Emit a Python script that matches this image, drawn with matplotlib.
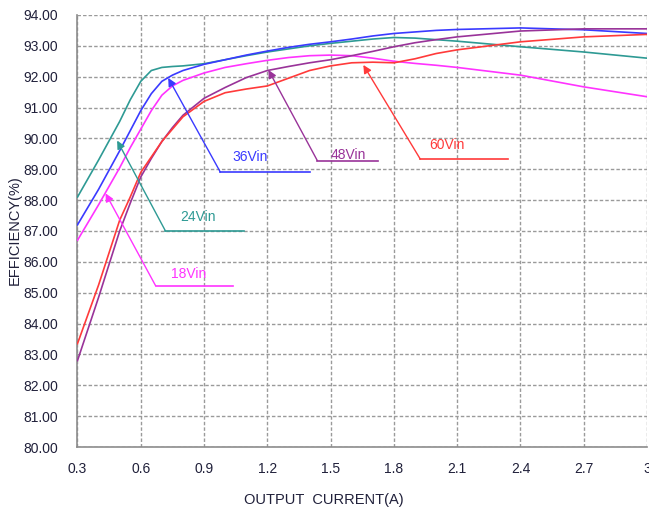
import matplotlib
matplotlib.use("Agg")
import matplotlib.pyplot as plt

plt.rcParams["font.family"] = ["Liberation Sans", "DejaVu Sans"]

# ---- data -----------------------------------------------------------------
current = [0.3, 0.4, 0.5, 0.55, 0.6, 0.65, 0.7, 0.75, 0.8, 0.9, 1.0, 1.1,
           1.2, 1.3, 1.4, 1.5, 1.6, 1.7, 1.8, 1.9, 2.0, 2.1, 2.4, 2.7, 3.0]

eff_18vin = [86.7, 87.85, 89.05, 89.7, 90.3, 90.9, 91.4, 91.7, 91.88, 92.12,
             92.3, 92.42, 92.53, 92.62, 92.68, 92.7, 92.68, 92.6, 92.5, 92.43,
             92.37, 92.3, 92.05, 91.67, 91.35]
eff_24vin = [88.1, 89.3, 90.55, 91.25, 91.85, 92.2, 92.3, 92.33, 92.35, 92.42,
             92.55, 92.68, 92.8, 92.9, 93.0, 93.08, 93.15, 93.22, 93.27, 93.25,
             93.2, 93.15, 92.97, 92.8, 92.6]
eff_36vin = [87.2, 88.35, 89.6, 90.25, 90.9, 91.45, 91.85, 92.05, 92.2, 92.4,
             92.55, 92.7, 92.83, 92.95, 93.05, 93.13, 93.22, 93.32, 93.4, 93.45,
             93.5, 93.53, 93.58, 93.52, 93.4]
eff_48vin = [82.8, 84.85, 87.0, 87.9, 88.75, 89.35, 89.9, 90.35, 90.75, 91.3,
             91.65, 91.97, 92.2, 92.33, 92.45, 92.55, 92.68, 92.82, 92.97, 93.1,
             93.2, 93.29, 93.48, 93.55, 93.55]
eff_60vin = [83.35, 85.25, 87.35, 88.1, 88.9, 89.4, 89.9, 90.3, 90.7, 91.2,
             91.48, 91.6, 91.7, 91.95, 92.2, 92.35, 92.45, 92.47, 92.45, 92.58,
             92.75, 92.87, 93.13, 93.29, 93.37]

x_ticks = [0.3, 0.6, 0.9, 1.2, 1.5, 1.8, 2.1, 2.4, 2.7, 3.0]
x_labels = ["0.3", "0.6", "0.9", "1.2", "1.5", "1.8", "2.1", "2.4", "2.7", "3"]
y_ticks = list(range(80, 95))

# callouts: label, arrow tip, elbow, end of underline, text anchor
callouts = [
    ("18Vin", (0.433, 88.22), (0.67, 85.23), (1.035, 85.23), (0.826, 85.6)),
    ("24Vin", (0.488, 89.93), (0.717, 87.0), (1.09, 87.0), (0.87, 87.45)),
    ("36Vin", (0.73, 91.96), (0.977, 88.91), (1.40, 88.91), (1.12, 89.4)),
    ("48Vin", (1.205, 92.22), (1.437, 89.28), (1.726, 89.28), (1.584, 89.46)),
    ("60Vin", (1.655, 92.38), (1.925, 89.33), (2.34, 89.33), (2.05, 89.79)),
]

C18 = "#ff33ff"
C24 = "#2e9a94"
C36 = "#3a3aff"
C48 = "#993399"
C60 = "#ff3a3a"
series = [(eff_18vin, C18), (eff_24vin, C24), (eff_36vin, C36),
          (eff_48vin, C48), (eff_60vin, C60)]
call_colors = [C18, C24, C36, C48, C60]

TXT = "#20203a"

fig = plt.figure(figsize=(6.49, 5.16), dpi=100)
ax = fig.add_axes([0.1194, 0.1337, 0.997 - 0.1194, 0.971 - 0.1337])

for ys, c in series:
    ax.plot(current, ys, color=c, lw=1.2, zorder=3, solid_joinstyle="round")

for (lab, tip, elbow, end, tpos), c in zip(callouts, call_colors):
    ax.plot([elbow[0], end[0]], [elbow[1], end[1]], color=c, lw=1.2, zorder=4)
    ax.annotate("", xy=tip, xytext=elbow,
                arrowprops=dict(arrowstyle="-|>", color=c, lw=1.0,
                                mutation_scale=12, shrinkA=0, shrinkB=0),
                zorder=4)
    ax.text(tpos[0], tpos[1], lab, color=c, fontsize=10, ha="center",
            va="center", zorder=5)

ax.set_xlim(0.3, 3.0)
ax.set_ylim(80, 94)
ax.set_xticks(x_ticks)
ax.set_xticklabels(x_labels)
ax.set_yticks(y_ticks)
ax.set_yticklabels([f"{v:.2f}" for v in y_ticks])
ax.tick_params(axis="both", length=0, labelsize=10, labelcolor=TXT)
ax.tick_params(axis="y", pad=14)
ax.tick_params(axis="x", pad=11)

ax.grid(True, color="#9a9a9a", lw=1.0, ls=(0, (2.5, 1.5)), zorder=1)
for side in ("top", "right"):
    ax.spines[side].set_visible(False)
for side in ("left", "bottom"):
    ax.spines[side].set_color("#8c8c8c")
    ax.spines[side].set_linewidth(1.2)

fig.text(324 / 649, 1 - 500 / 516, "OUTPUT  CURRENT(A)", ha="center",
         va="center", fontsize=10.5, color=TXT)
fig.text(15 / 649, 1 - 230 / 516, "EFFICIENCY(%)", ha="center", va="center",
         rotation=90, fontsize=10.5, color=TXT)

fig.savefig("out.png", dpi=100)
